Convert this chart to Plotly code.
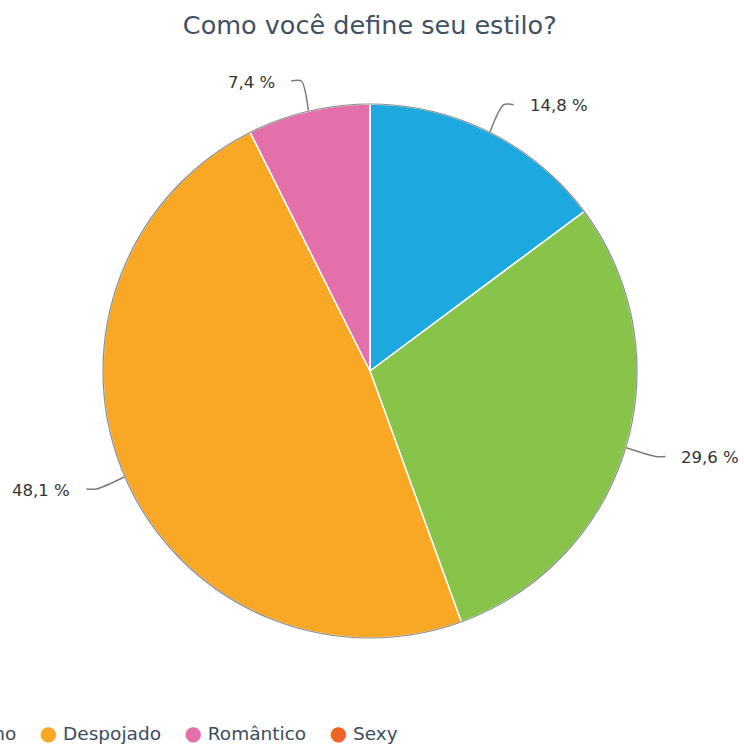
import math
import plotly.graph_objects as go

# Survey answers (respondent counts) and styling
categories = ["Clássico", "Moderno", "Despojado", "Romântico", "Sexy"]
counts = [4, 8, 13, 2, 0]
colors = ["#1ea8e0", "#88c34a", "#f9a825", "#e36fab", "#ee6426"]
title_text = "Como você define seu estilo?"

W, H = 744, 747
CX, CY, R = 370, 371, 267  # pie centre and radius in pixels

fig = go.Figure()

fig.add_trace(go.Pie(
    labels=categories,
    values=counts,
    sort=False,
    direction="clockwise",
    rotation=0,
    marker=dict(colors=colors, line=dict(color="white", width=1.5)),
    textinfo="none",
    hoverinfo="label+percent",
    showlegend=False,
    domain=dict(x=[(CX - R) / W, (CX + R) / W],
                y=[1 - (CY + R) / H, 1 - (CY - R) / H]),
))

# Outer rim of the pie
fig.add_shape(type="circle", xref="x", yref="y",
              x0=CX - R, x1=CX + R, y0=CY - R, y1=CY + R,
              line=dict(color="rgba(110,110,110,0.8)", width=1.2))

# Percentage labels with curved leader lines
total = sum(counts)
cum = 0
annotations = []
for cat, v in zip(categories, counts):
    if v == 0:
        continue
    frac = v / total
    mid = cum + frac / 2
    cum += frac
    theta = 2 * math.pi * mid
    dx, dy = math.sin(theta), -math.cos(theta)
    side = 1 if dx >= 0 else -1
    p0 = (CX + R * dx, CY + R * dy)
    p1 = (CX + (R + 31) * dx, CY + (R + 31) * dy)
    p2 = (p1[0] + side * 10, p1[1])
    fig.add_trace(go.Scatter(
        x=[p0[0], p1[0], p2[0]], y=[p0[1], p1[1], p2[1]],
        mode="lines", line=dict(color="#7a7a7a", width=1.5, shape="spline", smoothing=0.8),
        hoverinfo="skip", showlegend=False,
    ))
    pct = f"{frac * 100:.1f}".replace(".", ",") + " %"
    annotations.append(dict(
        x=p2[0] + side * 14, y=p1[1] + 1, xref="x", yref="y",
        text=pct, showarrow=False,
        xanchor="left" if side > 0 else "right", yanchor="middle",
        font=dict(family="DejaVu Sans", size=16.5, color="#333333"),
    ))

# Legend row along the bottom
items = []
for cat, c in zip(categories, colors):
    items.append(f"<span style='color:{c};font-size:20px'>●</span> {cat}")
legend_text = "    ".join(items)
annotations.append(dict(
    x=400, y=733, xref="x", yref="y", text=legend_text, showarrow=False,
    xanchor="right", yanchor="middle",
    font=dict(family="DejaVu Sans", size=18.5, color="#3b4d61"),
))

fig.update_layout(
    width=W, height=H,
    margin=dict(l=0, r=0, t=0, b=0),
    paper_bgcolor="white", plot_bgcolor="white",
    title=dict(text=title_text, x=0.497, xanchor="center",
               y=1 - 25 / H, yanchor="middle", yref="container",
               font=dict(family="DejaVu Sans", size=25.5, color="#3f5163")),
    xaxis=dict(range=[0, W], visible=False, fixedrange=True),
    yaxis=dict(range=[H, 0], visible=False, fixedrange=True),
    annotations=annotations,
    showlegend=False,
)

fig.write_html("out.html")
